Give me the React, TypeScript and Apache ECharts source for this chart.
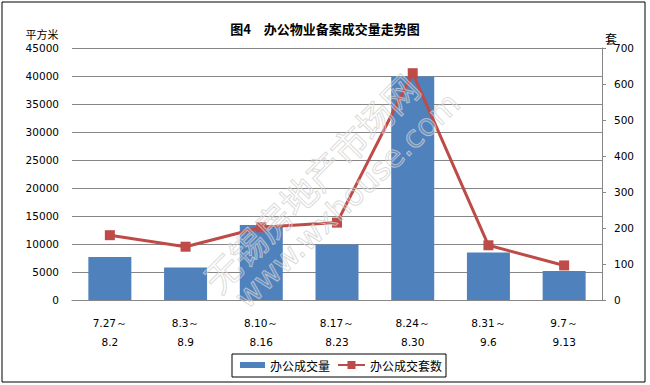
import React, { useEffect, useRef } from "react";
import * as echarts from "echarts";

const categories = ["7.27～\n8.2", "8.3～\n8.9", "8.10～\n8.16", "8.17～\n8.23", "8.24～\n8.30", "8.31～\n9.6", "9.7～\n9.13"];
const areaValues = [7700, 5800, 13400, 9900, 39900, 8500, 5200];
const unitValues = [180, 148, 202, 215, 630, 152, 96];
const titleText = "图4　办公物业备案成交量走势图";
const barName = "办公成交量";
const lineName = "办公成交套数";
const leftUnit = "平方米";
const rightUnit = "套";

export default function App() {
  const ref = useRef<HTMLDivElement>(null);
  useEffect(() => {
    if (!ref.current) return;
    const chart = echarts.init(ref.current, null, { renderer: "svg" });
    const numFont = "DejaVu Sans";
    const cjkFont = "Noto Sans CJK SC";
    const plain = (v: number) => String(v);
    chart.setOption({
      animation: false,
      backgroundColor: "#ffffff",
      title: {
        text: titleText,
        left: "center",
        top: 17,
        textStyle: { fontSize: 13, fontWeight: "bold", color: "#000", fontFamily: cjkFont },
      },
      grid: { left: 72, right: 48, top: 48, bottom: 85, containLabel: false },
      legend: [
        {
          data: [{ name: barName, icon: "rect" }],
          left: 240,
          top: 359,
          padding: 0,
          itemWidth: 25,
          itemHeight: 6,
          selectedMode: false,
          textStyle: { fontSize: 12, color: "#000", fontFamily: cjkFont },
        },
        {
          data: [lineName],
          left: 337,
          top: 359,
          padding: 0,
          itemWidth: 27,
          itemHeight: 10,
          selectedMode: false,
          textStyle: { fontSize: 12, color: "#000", fontFamily: cjkFont },
        },
      ],
      xAxis: {
        type: "category",
        data: categories,
        axisLine: { show: true, lineStyle: { color: "#868686", width: 1 } },
        axisTick: { show: false },
        axisLabel: {
          interval: 0,
          margin: 13,
          lineHeight: 19,
          fontSize: 10.5,
          color: "#000",
          fontFamily: numFont,
        },
      },
      yAxis: [
        {
          type: "value",
          min: 0,
          max: 45000,
          interval: 5000,
          axisLine: { show: false },
          axisTick: { show: false },
          axisLabel: { margin: 13, fontSize: 10.5, color: "#000", fontFamily: numFont, formatter: plain },
          splitLine: { show: true, lineStyle: { color: "#868686", width: 1 } },
        },
        {
          type: "value",
          min: 0,
          max: 700,
          interval: 100,
          position: "right",
          axisLine: { show: true, lineStyle: { color: "#868686", width: 1 } },
          axisTick: { show: true, inside: false, length: 4, lineStyle: { color: "#868686" } },
          axisLabel: { margin: 12, fontSize: 10.5, color: "#000", fontFamily: numFont, formatter: plain },
          splitLine: { show: false },
        },
      ],
      series: [
        {
          name: barName,
          type: "bar",
          data: areaValues,
          barWidth: 43,
          itemStyle: { color: "#4F81BD" },
          yAxisIndex: 0,
        },
        {
          name: lineName,
          type: "line",
          data: unitValues,
          yAxisIndex: 1,
          symbol: "rect",
          symbolSize: 10,
          lineStyle: { color: "#BE4B48", width: 3 },
          itemStyle: { color: "#BE4B48" },
        },
      ],
      graphic: [
        {
          type: "rect",
          shape: { x: 2, y: 2, width: 643, height: 380 },
          style: { fill: "none", stroke: "#000", lineWidth: 1 },
          z: 0,
          silent: true,
        },
        {
          type: "rect",
          shape: { x: 232, y: 354, width: 214, height: 23 },
          style: { fill: "none", stroke: "#000", lineWidth: 1 },
          silent: true,
        },
        {
          type: "text",
          x: 42,
          y: 34,
          style: { text: leftUnit, fontSize: 11, fill: "#000", fontFamily: cjkFont, align: "center", verticalAlign: "middle" },
          z: 10,
        },
        {
          type: "text",
          x: 611,
          y: 38,
          style: { text: rightUnit, fontSize: 12, fill: "#000", fontFamily: cjkFont, align: "center", verticalAlign: "middle" },
          z: 10,
        },
        {
          type: "text",
          x: 310,
          y: 182,
          rotation: 0.79,
          style: {
            text: "无锡房地产市场网",
            fontSize: 36,
            fill: "rgba(255,255,255,0.15)",
            stroke: "rgba(205,205,205,0.75)",
            lineWidth: 1,
            fontFamily: cjkFont,
            align: "center",
            verticalAlign: "middle",
          },
          z: 100,
          silent: true,
        },
        {
          type: "text",
          x: 347,
          y: 200,
          rotation: 0.76,
          style: {
            text: "www.wxhouse.com",
            fontSize: 31,
            fill: "rgba(255,255,255,0.15)",
            stroke: "rgba(205,205,205,0.75)",
            lineWidth: 1,
            fontFamily: "DejaVu Sans",
            align: "center",
            verticalAlign: "middle",
          },
          z: 100,
          silent: true,
        },
      ],
    });
    return () => chart.dispose();
  }, []);
  return (
    <div
      ref={ref}
      style={{ position: "fixed", left: 0, top: 0, width: 650, height: 385, background: "#fff" }}
    />
  );
}
